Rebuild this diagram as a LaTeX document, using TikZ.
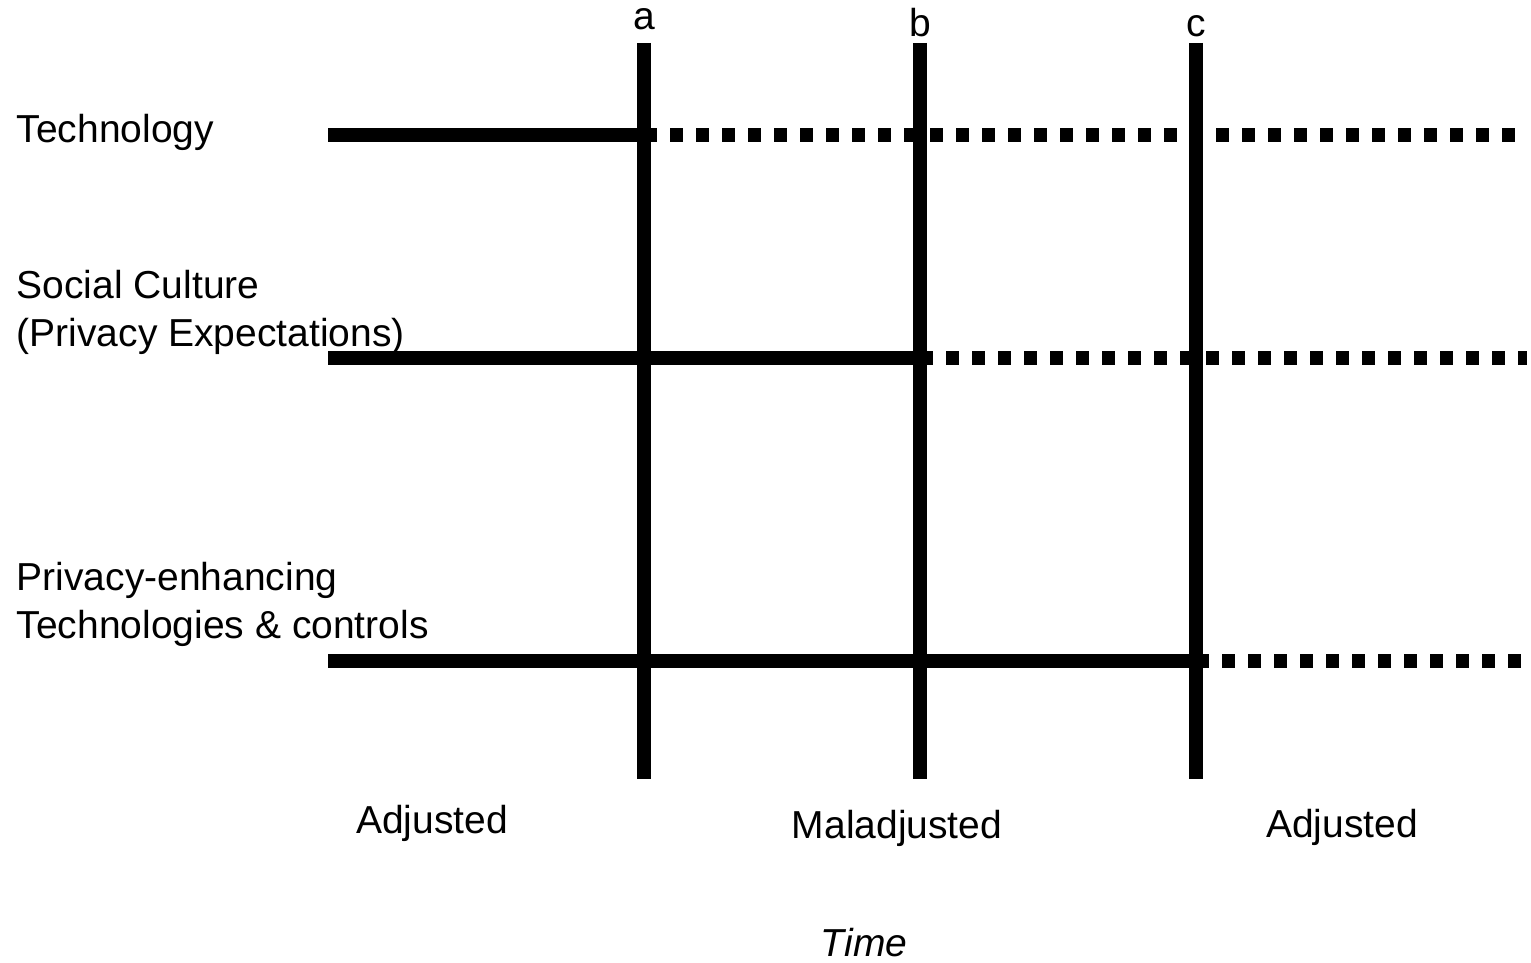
\documentclass[tikz,border=0pt]{standalone}
\usepackage{fontspec}
\setmainfont{Liberation Sans}
\begin{document}
\begin{tikzpicture}[x=0.5pt, y=-0.5pt, line width=6.75pt,
  every node/.style={font=\fontsize{19.5}{24}\selectfont, inner sep=0pt},
  rowname/.style={anchor=base west, align=left},
  timemark/.style={anchor=base},
  behind/.style={dash pattern=on 6.5pt off 6.5pt}]
  \useasboundingbox (0,0) rectangle (1531,963);
  % points in time
  \foreach \n/\x/\y in {a/644/30, b/920/37, c/1196/37} {
    \coordinate (\n top) at (\x,43);
    \coordinate (\n bot) at (\x,779);
    \node [timemark] (\n) at (\x,\y) {\n};
    \draw (\n top) -- (\n bot);
  }
  % the three strands
  \node [rowname] (tech) at (10,142) {Technology};
  \node [rowname] (social) at (10,346) {Social Culture\\(Privacy Expectations)};
  \node [rowname] (pet) at (10,638) {Privacy-enhancing\\Technologies \& controls};
  \foreach \r/\y/\m in {tech/135/a, social/358/b, pet/661/c} {
    \coordinate (\r start) at (328,\y);
    \coordinate (\r end) at (1527,\y);
    \draw (\r start) -- (\r start -| \m top);
    \draw [behind] (\r start -| \m top) -- (\r end);
  }
  % states
  \node [timemark] (adj1) at (432,833) {Adjusted};
  \node [timemark] (maladj) at (897,838) {Maladjusted};
  \node [timemark] (adj2) at (1342,837) {Adjusted};
  \node [timemark] (time) at (864,956) {\itshape Time};
\end{tikzpicture}
\end{document}
